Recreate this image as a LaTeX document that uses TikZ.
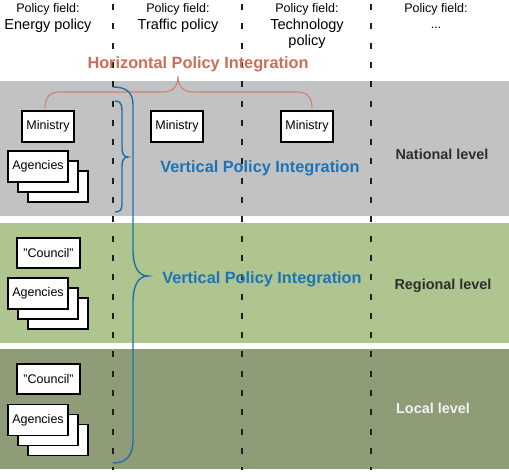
\documentclass[tikz,border=0pt]{standalone}
\usepackage{fontspec}
\setmainfont{Liberation Sans}
\definecolor{natgray}{RGB}{192,194,196}
\definecolor{reggreen}{RGB}{174,197,144}
\definecolor{locgreen}{RGB}{143,156,120}
\definecolor{horiz}{RGB}{204,110,85}
\definecolor{hbrace}{RGB}{212,128,108}
\definecolor{vert}{RGB}{30,115,180}
\definecolor{vline}{RGB}{35,110,170}
\definecolor{dashc}{RGB}{30,30,30}
\definecolor{leveltext}{RGB}{45,45,45}
\begin{document}
\begin{tikzpicture}[x=1pt,y=-1pt,
  box/.style={draw=black,line width=1.2pt,fill=white,inner sep=0pt,
    font=\fontsize{12.5}{14}\selectfont},
  ministry/.style={box,minimum width=52pt,minimum height=31pt},
  council/.style={box,minimum width=63pt,minimum height=30pt},
  agency/.style={box,minimum width=60pt,minimum height=31pt},
  fieldsmall/.style={anchor=base,inner sep=0pt,font=\fontsize{12.5}{14}\selectfont},
  fieldbig/.style={anchor=base,inner sep=0pt,font=\fontsize{14.5}{17}\selectfont},
  integ/.style={anchor=base,inner sep=0pt,font=\bfseries\fontsize{16.3}{19}\selectfont},
  level/.style={anchor=base,inner sep=0pt,font=\bfseries\fontsize{14.4}{17}\selectfont},
  divider/.style={dashc,line width=2.4pt,dash pattern=on 6pt off 13.3pt},
  vbrace/.style={vline,line width=1.4pt},
  hbr/.style={hbrace,line width=1.1pt}]
\useasboundingbox (0,0) rectangle (509,474);
\fill[white] (0,0) rectangle (509,474);
% bands
\fill[natgray] (0,81) rectangle (509,216);
\fill[reggreen] (0,223) rectangle (509,343);
\fill[locgreen] (0,349) rectangle (509,469);
% dividers
\foreach \xx/\nm in {113/d1,242/d2,371/d3}{
  \coordinate (\nm t) at (\xx,4);
  \coordinate (\nm b) at (\xx,470);
  \draw[divider] (\nm t) -- (\nm b);
}
% headers
\node[fieldsmall] (pf1) at (48,12) {Policy field:};
\node[fieldbig] (f1) at (48,29) {Energy policy};
\node[fieldsmall] (pf2) at (178,12) {Policy field:};
\node[fieldbig] (f2) at (178,29) {Traffic policy};
\node[fieldsmall] (pf3) at (307,12) {Policy field:};
\node[fieldbig] (f3) at (307,29) {Technology};
\node[fieldbig] (f3b) at (307,45.5) {policy};
\node[fieldsmall] (pf4) at (436,12) {Policy field:};
\node[fieldsmall] (f4) at (436,28) {...};
% national boxes
\node[ministry] (m1) at (48,126.5) {Ministry};
\node[ministry] (m2) at (177,126.5) {Ministry};
\node[ministry] (m3) at (307,126.5) {Ministry};
\node[agency] (na3) at (58,186.5) {};
\node[agency] (na2) at (48,176.5) {};
\node[agency] (na1) at (38,166.5) {Agencies};
% regional boxes
\node[council] (rc) at (48.5,253) {"Council"};
\node[agency] (ra3) at (58,313.5) {};
\node[agency] (ra2) at (48,303.5) {};
\node[agency] (ra1) at (38,293.5) {Agencies};
% local boxes
\node[council] (lc) at (48.5,379) {"Council"};
\node[agency] (la3) at (58,440) {};
\node[agency] (la2) at (48,430) {};
\node[agency] (la1) at (38,420) {Agencies};
% horizontal brace
\coordinate (hl) at (45,108);
\coordinate (hr) at (312,108);
\draw[hbr] (hl) .. controls (45,97) and (50,92) .. (60,92) -- (162,92)
  .. controls (173,92) and (178,87) .. (178,76)
  .. controls (178,87) and (183,92) .. (194,92) -- (297,92)
  .. controls (307,92) and (312,97) .. (hr);
\node[integ,text=horiz] (hpi) at (198,68.5) {Horizontal Policy Integration};
% small vertical brace
\coordinate (sv1) at (115,101);
\coordinate (sv2) at (115,212);
\draw[vbrace] (sv1) .. controls (120,101) and (122,104) .. (122,110) -- (122,148)
  .. controls (122,154) and (124,157) .. (128,157)
  .. controls (124,157) and (122,160) .. (122,166) -- (122,204)
  .. controls (122,210) and (120,212) .. (sv2);
% big vertical brace
\coordinate (bv1) at (113,87);
\coordinate (bv2) at (113,463);
\draw[vbrace] (bv1) .. controls (126,87) and (133,92) .. (133,105) -- (133,250)
  .. controls (133,266) and (138,276) .. (148,276)
  .. controls (138,276) and (133,286) .. (133,302) -- (133,440)
  .. controls (133,456) and (126,463) .. (bv2);
\node[integ,text=vert] (vpi1) at (260,172) {Vertical Policy Integration};
\node[integ,text=vert] (vpi2) at (262,283) {Vertical Policy Integration};
% levels
\node[level,text=leveltext] (nl) at (442,159) {National level};
\node[level,text=leveltext] (rl) at (443,289) {Regional level};
\node[level,text=white!95!black] (ll) at (433,413) {Local level};
\end{tikzpicture}
\end{document}
